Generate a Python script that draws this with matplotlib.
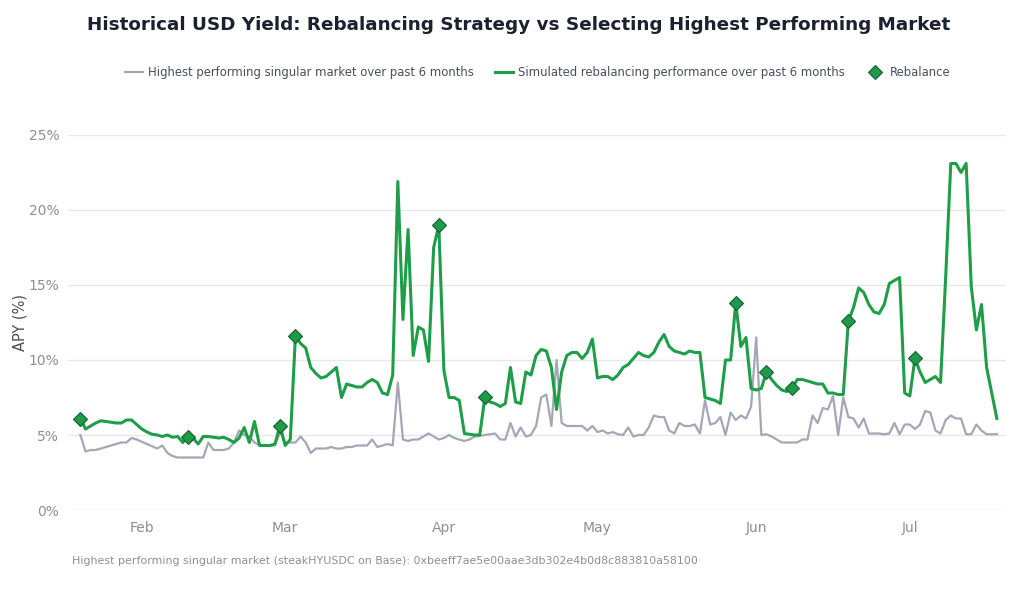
import matplotlib
matplotlib.use("Agg")
import matplotlib.pyplot as plt
import matplotlib.dates as mdates
from matplotlib.ticker import FuncFormatter
import pandas as pd

# daily values, 2025-01-20 .. 2025-07-18
start_date = "2025-01-20"

best_market_apy = [
    5.0, 3.9, 4.0, 4.0, 4.1, 4.2, 4.3, 4.4, 4.5, 4.5,
    4.8, 4.7, 4.55, 4.4, 4.25, 4.1, 4.3, 3.8, 3.6, 3.5,
    3.5, 3.5, 3.5, 3.5, 3.5, 4.5, 4.0, 4.0, 4.0, 4.1,
    4.5, 5.3, 5.0, 4.9, 4.5, 4.3, 4.3, 4.3, 4.3, 5.2,
    4.5, 4.5, 4.5, 4.9, 4.5, 3.8, 4.1, 4.1, 4.1, 4.2,
    4.1, 4.1, 4.2, 4.2, 4.3, 4.3, 4.3, 4.7, 4.2, 4.3,
    4.4, 4.3, 8.5, 4.7, 4.6, 4.7, 4.7, 4.9, 5.1, 4.9,
    4.7, 4.8, 5.0, 4.8, 4.7, 4.6, 4.7, 4.9, 4.95, 5.0,
    5.05, 5.1, 4.7, 4.7, 5.8, 4.9, 5.5, 4.9, 5.0, 5.6,
    7.5, 7.7, 5.6, 10.0, 5.8, 5.6, 5.6, 5.6, 5.6, 5.3,
    5.6, 5.2, 5.3, 5.1, 5.2, 5.05, 5.0, 5.5, 4.9, 5.0,
    5.0, 5.5, 6.3, 6.2, 6.2, 5.3, 5.1, 5.8, 5.6, 5.6,
    5.7, 5.1, 7.3, 5.7, 5.8, 6.2, 5.0, 6.5, 6.0, 6.3,
    6.1, 6.9, 11.5, 5.0, 5.05, 4.9, 4.7, 4.5, 4.5, 4.5,
    4.5, 4.7, 4.7, 6.3, 5.8, 6.8, 6.7, 7.6, 5.0, 7.5,
    6.2, 6.1, 5.5, 6.1, 5.1, 5.1, 5.1, 5.05, 5.1, 5.8,
    5.05, 5.7, 5.7, 5.4, 5.7, 6.6, 6.5, 5.3, 5.1, 6.0,
    6.3, 6.1, 6.1, 5.05, 5.05, 5.7, 5.3, 5.05, 5.05, 5.05,
]

rebalancing_apy = [
    6.1, 5.4, 5.6, 5.8, 5.95, 5.9, 5.85, 5.8, 5.8, 6.0,
    6.0, 5.7, 5.4, 5.2, 5.05, 5.0, 4.9, 5.0, 4.85, 4.9,
    4.5, 4.9, 4.8, 4.4, 4.9, 4.9, 4.85, 4.8, 4.85, 4.7,
    4.5, 4.8, 5.5, 4.5, 5.9, 4.3, 4.3, 4.3, 4.4, 5.6,
    4.3, 4.7, 11.6, 11.1, 10.8, 9.5, 9.1, 8.8, 8.9, 9.2,
    9.5, 7.5, 8.4, 8.3, 8.2, 8.2, 8.5, 8.7, 8.5, 7.8,
    7.7, 9.0, 21.9, 12.7, 18.7, 10.3, 12.2, 12.0, 9.9, 17.5,
    19.0, 9.3, 7.5, 7.5, 7.3, 5.1, 5.05, 5.0, 5.0, 7.5,
    7.2, 7.1, 6.9, 7.1, 9.5, 7.2, 7.1, 9.2, 9.0, 10.3,
    10.7, 10.6, 9.5, 6.7, 9.2, 10.3, 10.5, 10.5, 10.1, 10.5,
    11.4, 8.8, 8.9, 8.9, 8.7, 9.0, 9.5, 9.7, 10.1, 10.5,
    10.3, 10.2, 10.5, 11.2, 11.7, 10.9, 10.6, 10.5, 10.4, 10.6,
    10.5, 10.5, 7.5, 7.4, 7.3, 7.1, 10.0, 10.0, 13.8, 10.9,
    11.5, 8.1, 8.0, 8.1, 9.2, 8.7, 8.3, 8.0, 7.9, 8.1,
    8.7, 8.7, 8.6, 8.5, 8.4, 8.4, 7.8, 7.8, 7.7, 7.7,
    12.6, 13.5, 14.8, 14.5, 13.7, 13.2, 13.1, 13.7, 15.1, 15.3,
    15.5, 7.8, 7.6, 10.1, 9.2, 8.5, 8.7, 8.9, 8.5, 15.5,
    23.1, 23.1, 22.5, 23.1, 14.9, 12.0, 13.7, 9.5, 7.8, 6.1,
]

rebalance_dates = [
    "2025-01-20", "2025-02-10", "2025-02-28", "2025-03-03", "2025-03-31",
    "2025-04-09", "2025-05-28", "2025-06-03", "2025-06-08", "2025-06-19",
    "2025-07-02",
]

dates = pd.date_range(start_date, periods=len(rebalancing_apy), freq="D")
df = pd.DataFrame({"best": best_market_apy, "rebal": rebalancing_apy}, index=dates)
reb_idx = pd.to_datetime(rebalance_dates)
reb_vals = df.loc[reb_idx, "rebal"]

GREEN = "#1f9e49"
GRAY = "#a4a7b5"
TEXT = "#4a4f5c"
TICK = "#8a8f9a"

fig = plt.figure(figsize=(10.24, 5.92), dpi=100)
ax = fig.add_axes([0.066, 0.1385, 0.916, 0.6335])

ax.plot(df.index, df["best"], color=GRAY, lw=1.6,
        label="Highest performing singular market over past 6 months")
ax.plot(df.index, df["rebal"], color=GREEN, lw=2.2,
        label="Simulated rebalancing performance over past 6 months")
ax.plot(reb_idx, reb_vals, ls="none", marker="D", markersize=7,
        markerfacecolor="#1f9a48", markeredgecolor="#14602f", markeredgewidth=0.8,
        label="Rebalance", zorder=5)

ax.set_ylim(0, 25)
ax.set_yticks([0, 5, 10, 15, 20, 25])
ax.yaxis.set_major_formatter(FuncFormatter(lambda v, p: f"{v:.0f}%"))
ax.set_xlim(dates[0] - pd.Timedelta(days=2.5), dates[-1] + pd.Timedelta(days=1.7))
ax.xaxis.set_major_locator(mdates.MonthLocator(bymonth=[2, 3, 4, 5, 6, 7]))
ax.xaxis.set_major_formatter(mdates.DateFormatter("%b"))

ax.grid(axis="y", color="#e6e8ec", lw=1)
ax.set_axisbelow(True)
for s in ax.spines.values():
    s.set_visible(False)
ax.tick_params(axis="both", length=0, colors=TICK, labelsize=10)
ax.tick_params(axis="x", pad=8)
ax.tick_params(axis="y", pad=6)
ax.set_ylabel("APY (%)", color=TEXT, fontsize=10.5, labelpad=1)

fig.text(0.506, 0.958, "Historical USD Yield: Rebalancing Strategy vs Selecting Highest Performing Market",
         ha="center", va="center", fontsize=13.2, fontweight="bold", color="#1c2130")

fig.legend(loc="center", bbox_to_anchor=(0.525, 0.878), ncol=3, frameon=False,
           fontsize=8.4, labelcolor=TEXT, handlelength=1.5, columnspacing=1.8,
           handletextpad=0.5)

fig.text(0.07, 0.053,
         "Highest performing singular market (steakHYUSDC on Base): 0xbeeff7ae5e00aae3db302e4b0d8c883810a58100",
         fontsize=7.9, color=TICK, va="center")

fig.savefig("out.png", dpi=100, facecolor="white")
